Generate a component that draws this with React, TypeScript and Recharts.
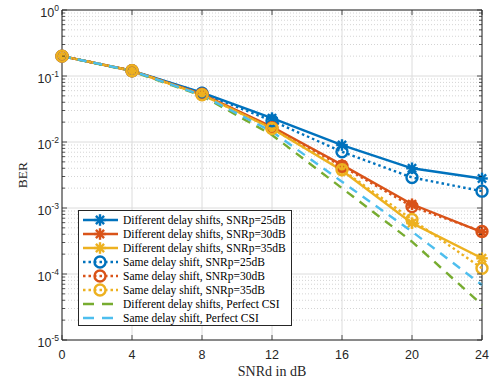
import React from 'react';
import { LineChart, Line, XAxis, YAxis, CartesianGrid, ReferenceLine, Legend } from 'recharts';

// x axis: SNRd in dB
const snrd = [0, 4, 8, 12, 16, 20, 24];

// BER, different delay shifts
const diff25 = [0.2, 0.12, 0.056, 0.023, 0.009, 0.004, 0.0028];
const diff30 = [0.2, 0.12, 0.053, 0.017, 0.0045, 0.00114, 0.00043];
const diff35 = [0.2, 0.12, 0.052, 0.016, 0.0037, 0.00059, 0.000173];
// BER, same delay shift
const same25 = [0.2, 0.12, 0.055, 0.021, 0.0071, 0.0029, 0.0018];
const same30 = [0.2, 0.12, 0.053, 0.0165, 0.0043, 0.00105, 0.00044];
const same35 = [0.2, 0.12, 0.052, 0.016, 0.0038, 0.00067, 0.000122];
// perfect CSI
const diffPerfect = [0.2, 0.118, 0.05, 0.0128, 0.002, 0.00031, 0.000034];
const samePerfect = [0.2, 0.12, 0.051, 0.0144, 0.0025, 0.00044, 0.000068];

const yMajor = [1e-5, 1e-4, 1e-3, 1e-2, 1e-1, 1];
const yMinor: number[] = [];
for (let e = -5; e < 0; e++) {
  for (let m = 2; m <= 9; m++) yMinor.push(m * Math.pow(10, e));
}
const yTicks = [...yMajor, ...yMinor];

const BLUE = '#0072BD';
const ORANGE = '#D95319';
const YELLOW = '#EDB120';
const GREEN = '#77AC30';
const CYAN = '#4DBEEE';
const AXIS = '#262626';
const SANS = '"Liberation Sans", Arial, sans-serif';
const SERIF = '"Liberation Serif", "Times New Roman", serif';

const W = 491;
const H = 384;
const M = { top: 10, right: 9, left: 0, bottom: 0 };
const Y_W = 62;
const X_H = 44;
const PL = M.left + Y_W;
const PR = W - M.right;
const PT = M.top;
const PB = H - X_H;
const LW = 2.4;

type Series = { key: string; name: string; values: number[]; color: string; style: 'solid' | 'dot' | 'dash'; marker?: 'star' | 'circle' };

const SERIES: Series[] = [
  { key: 'd25', name: 'Different delay shifts, SNRp=25dB', values: diff25, color: BLUE, style: 'solid', marker: 'star' },
  { key: 'd30', name: 'Different delay shifts, SNRp=30dB', values: diff30, color: ORANGE, style: 'solid', marker: 'star' },
  { key: 'd35', name: 'Different delay shifts, SNRp=35dB', values: diff35, color: YELLOW, style: 'solid', marker: 'star' },
  { key: 's25', name: 'Same delay shift, SNRp=25dB', values: same25, color: BLUE, style: 'dot', marker: 'circle' },
  { key: 's30', name: 'Same delay shift, SNRp=30dB', values: same30, color: ORANGE, style: 'dot', marker: 'circle' },
  { key: 's35', name: 'Same delay shift, SNRp=35dB', values: same35, color: YELLOW, style: 'dot', marker: 'circle' },
  { key: 'dp', name: 'Different delay shifts, Perfect CSI', values: diffPerfect, color: GREEN, style: 'dash' },
  { key: 'sp', name: 'Same delay shift, Perfect CSI', values: samePerfect, color: CYAN, style: 'dash' },
];

const data = snrd.map((x, i) => {
  const row: Record<string, number> = { snrd: x };
  SERIES.forEach((s) => (row[s.key] = s.values[i]));
  return row;
});

const dashOf = (style: Series['style']) => (style === 'dot' ? '2.5 3' : style === 'dash' ? '9 7' : undefined);

const Marker = ({ cx, cy, color, type }: { cx: number; cy: number; color: string; type?: string }) => {
  if (type === 'circle') {
    return <circle cx={cx} cy={cy} r={5.5} fill="none" stroke={color} strokeWidth={LW} />;
  }
  if (type === 'star') {
    const r = 5.8;
    const d = r * 0.707;
    return (
      <g stroke={color} strokeWidth={LW}>
        <circle cx={cx} cy={cy} r={2.5} fill={color} stroke="none" />
        <line x1={cx - r} x2={cx + r} y1={cy} y2={cy} />
        <line x1={cx} x2={cx} y1={cy - r} y2={cy + r} />
        <line x1={cx - d} x2={cx + d} y1={cy - d} y2={cy + d} />
        <line x1={cx - d} x2={cx + d} y1={cy + d} y2={cy - d} />
      </g>
    );
  }
  return null;
};

const isMajor = (v: number) => yMajor.some((m) => Math.abs(m - v) / m < 1e-6);

const YTick = (props: any) => {
  const { y, payload } = props;
  const v = payload.value as number;
  const major = isMajor(v);
  const len = major ? 5 : 3;
  return (
    <g>
      <line x1={PL} x2={PL + len} y1={y} y2={y} stroke={AXIS} strokeWidth={0.8} />
      <line x1={PR} x2={PR - len} y1={y} y2={y} stroke={AXIS} strokeWidth={0.8} />
      {major && (
        <text x={PL - 3} y={y + 7} textAnchor="end" fontFamily={SANS} fontSize={12.5} fill={AXIS}>
          10
          <tspan dy={-6} fontSize={8.5}>
            {Math.round(Math.log10(v))}
          </tspan>
        </text>
      )}
    </g>
  );
};

const XTick = (props: any) => {
  const { x, payload } = props;
  return (
    <g>
      <line x1={x} x2={x} y1={PB} y2={PB - 5} stroke={AXIS} strokeWidth={0.8} />
      <line x1={x} x2={x} y1={PT} y2={PT + 5} stroke={AXIS} strokeWidth={0.8} />
      <text x={x} y={PB + 19} textAnchor="middle" fontFamily={SANS} fontSize={12.5} fill={AXIS}>
        {payload.value}
      </text>
    </g>
  );
};

const LegendBox = () => (
  <div style={{ width: 212, height: 112, paddingTop: 2, border: `1px solid ${AXIS}`, background: '#fff' }}>
    {SERIES.map((s) => (
      <div key={s.key} style={{ display: 'flex', alignItems: 'center', height: 14 }}>
        <svg width={44} height={14} style={{ display: 'block', flex: 'none' }}>
          <line x1={4} x2={39} y1={7} y2={7} stroke={s.color} strokeWidth={LW} strokeDasharray={s.style === 'dash' ? '11 8' : dashOf(s.style)} />
          <Marker cx={21} cy={7} color={s.color} type={s.marker} />
        </svg>
        <span style={{ fontFamily: SERIF, fontSize: 11.5, lineHeight: '14px', color: '#000', whiteSpace: 'nowrap' }}>{s.name}</span>
      </div>
    ))}
  </div>
);

export default function App() {
  return (
    <div style={{ position: 'absolute', left: 0, top: 0, width: W, height: H, background: '#fff' }}>
      <LineChart width={W} height={H} data={data} margin={M}>
        <CartesianGrid stroke="#dcdcdc" horizontalValues={yMajor} vertical={true} />
        <CartesianGrid stroke="#d4d4d4" strokeDasharray="1 2" horizontalValues={yMinor} vertical={false} />
        <XAxis
          dataKey="snrd"
          type="number"
          domain={[0, 24]}
          ticks={snrd}
          interval={0}
          height={X_H}
          tickSize={0}
          tickLine={false}
          axisLine={{ stroke: AXIS }}
          tick={(p: any) => <XTick {...p} />}
          label={{
            content: () => (
              <text x={(PL + PR) / 2} y={376} textAnchor="middle" fontFamily={SERIF} fontSize={14} fill={AXIS}>
                SNRd in dB
              </text>
            ),
          }}
        />
        <YAxis
          type="number"
          scale="log"
          domain={[1e-5, 1]}
          allowDataOverflow
          ticks={yTicks}
          interval={0}
          width={Y_W}
          tickSize={0}
          tickLine={false}
          axisLine={{ stroke: AXIS }}
          tick={(p: any) => <YTick {...p} />}
          label={{
            content: () => (
              <text
                x={26.5}
                y={(PT + PB) / 2}
                transform={`rotate(-90 26.5 ${(PT + PB) / 2})`}
                textAnchor="middle"
                fontFamily={SERIF}
                fontSize={13.5}
                fill={AXIS}
              >
                BER
              </text>
            ),
          }}
        />
        <ReferenceLine y={1} stroke={AXIS} />
        <ReferenceLine x={24} stroke={AXIS} />
        {SERIES.map((s) => (
          <Line
            key={s.key}
            type="linear"
            dataKey={s.key}
            name={s.name}
            stroke={s.color}
            strokeWidth={LW}
            strokeDasharray={dashOf(s.style)}
            dot={
              s.marker
                ? (p: any) => <Marker key={`${s.key}-${p.index}`} cx={p.cx} cy={p.cy} color={s.color} type={s.marker} />
                : false
            }
            activeDot={false}
            isAnimationActive={false}
          />
        ))}
        <Legend
          layout="horizontal"
          verticalAlign="middle"
          align="center"
          content={() => <LegendBox />}
          wrapperStyle={{ left: 78, top: 210, width: 214, height: 116 }}
        />
      </LineChart>
    </div>
  );
}
